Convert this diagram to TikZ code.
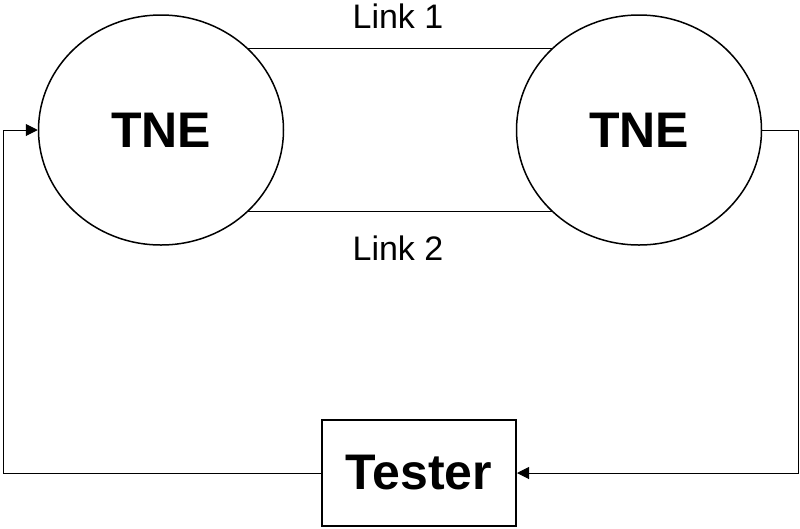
\documentclass[tikz,border=0pt]{standalone}
\usepackage{fontspec}
\setmainfont{Liberation Sans}
\usetikzlibrary{arrows.meta,shapes.geometric}
\begin{document}
\begin{tikzpicture}[x=1pt,y=-1pt,
  tne/.style={ellipse,draw,line width=1.5pt,minimum width=245pt,minimum height=230pt,inner sep=0pt,font=\fontsize{50}{51}\selectfont\bfseries},
  testerbox/.style={rectangle,draw,line width=2pt,minimum width=194pt,minimum height=106pt,inner sep=0pt,font=\fontsize{50}{51}\selectfont\bfseries},
  link/.style={line width=1pt},
  conn/.style={line width=1pt,-{Triangle[length=12pt,width=12pt]}},
  lbl/.style={font=\fontsize{34}{35}\selectfont,inner sep=0pt}]
\useasboundingbox (0,0) rectangle (800,528);
\node[tne] (A) at (161,130) {TNE};
\node[tne] (B) at (639,130) {TNE};
\node[testerbox] (T) at (419,473) {Tester};
\coordinate (l1a) at (248,48);
\coordinate (l1b) at (552,48);
\coordinate (l2a) at (248,211);
\coordinate (l2b) at (552,211);
\draw[link] (l1a) -- (l1b);
\draw[link] (l2a) -- (l2b);
\node[lbl,anchor=base] (L1) at (398,28) {Link 1};
\node[lbl,anchor=base] (L2) at (398,260) {Link 2};
\coordinate (cl) at (3,473);
\coordinate (cr) at (798,130);
\draw[conn] (T.west) -- (cl) |- (A.west);
\draw[conn] (B.east) -- (cr) |- (T.east);
\end{tikzpicture}
\end{document}
